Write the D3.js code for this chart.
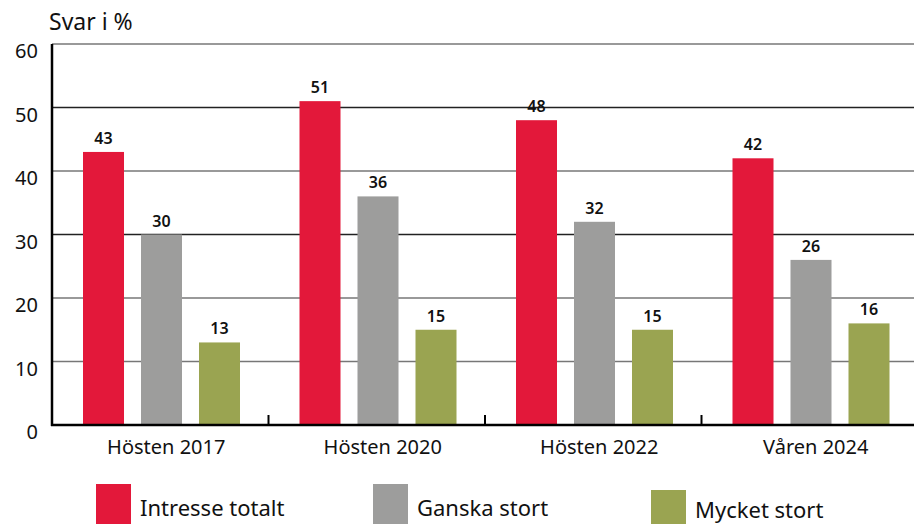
<!DOCTYPE html>
<html>
<head>
<meta charset="utf-8">
<script src="https://cdn.jsdelivr.net/npm/d3@7"></script>
<style>
  body { margin: 0; background: #fff; }
  svg text { font-family: "Noto Sans", "Open Sans", sans-serif; fill: #111; }
</style>
</head>
<body>
<div id="viz"></div>
<script>
var periods = ["Hösten 2017", "Hösten 2020", "Hösten 2022", "Våren 2024"];
var series = ["Intresse totalt", "Ganska stort", "Mycket stort"];
var intresseTotalt = [43, 51, 48, 42];
var ganskaStort = [30, 36, 32, 26];
var mycketStort = [13, 15, 15, 16];
var yTicks = [0, 10, 20, 30, 40, 50, 60];
var colors = ["#e3183a", "#9d9d9c", "#9aa451"];

var values = [intresseTotalt, ganskaStort, mycketStort];

var width = 914, height = 524;

var svg = d3.select('#viz').append('svg')
    .attr("width", width)
    .attr("height", height);

var y = d3.scaleLinear()
    .domain([0, 60])
    .range([425, 44]);

var x = d3.scaleBand()
    .domain(periods)
    .range([52, 918]);

var xInner = d3.scaleBand()
    .domain(series)
    .range([31, 188])
    .paddingInner(0.293);

// gridlines
svg.append("g").selectAll("line")
    .data(yTicks.filter(function(d) { return d > 0; }))
    .enter().append("line")
        .attr("x1", 52)
        .attr("x2", 914)
        .attr("y1", function(d) { return y(d); })
        .attr("y2", function(d) { return y(d); })
        .attr("stroke", function(d) { return (d == 50 || d == 30) ? "#222" : "#777"; })
        .attr("stroke-width", 1.5);

// y labels
svg.append("g").selectAll("text")
    .data(yTicks)
    .enter().append("text")
        .attr("x", 38)
        .attr("y", function(d) { return y(d) + 14; })
        .attr("text-anchor", "end")
        .style("font-size", "20px")
        .text(function(d) { return d; });

svg.append("text")
    .attr("x", 49)
    .attr("y", 30)
    .style("font-size", "23px")
    .text("Svar i %");

// bars
var groups = svg.append("g").selectAll("g")
    .data(periods)
    .enter().append("g")
        .attr("transform", function(d) { return "translate(" + x(d) + ",0)"; });

groups.selectAll("rect")
    .data(function(d, i) {
        return series.map(function(s, j) { return {s: s, v: values[j][i], c: colors[j]}; });
    })
    .enter().append("rect")
        .attr("x", function(d) { return xInner(d.s); })
        .attr("width", xInner.bandwidth())
        .attr("y", function(d) { return y(d.v); })
        .attr("height", function(d) { return y(0) - y(d.v); })
        .attr("fill", function(d) { return d.c; });

groups.selectAll("text.val")
    .data(function(d, i) {
        return series.map(function(s, j) { return {s: s, v: values[j][i]}; });
    })
    .enter().append("text")
        .attr("class", "val")
        .attr("x", function(d) { return xInner(d.s) + xInner.bandwidth() / 2; })
        .attr("y", function(d) { return y(d.v) - 8; })
        .attr("text-anchor", "middle")
        .style("font-size", "16px")
        .style("font-weight", "600")
        .text(function(d) { return d.v; });

// axes
svg.append("line")
    .attr("x1", 52).attr("x2", 52)
    .attr("y1", 44).attr("y2", 426)
    .attr("stroke", "#000").attr("stroke-width", 2.5);

svg.append("line")
    .attr("x1", 51).attr("x2", 914)
    .attr("y1", 425).attr("y2", 425)
    .attr("stroke", "#000").attr("stroke-width", 2.5);

svg.append("g").selectAll("line")
    .data(periods.slice(1))
    .enter().append("line")
        .attr("x1", function(d) { return x(d); })
        .attr("x2", function(d) { return x(d); })
        .attr("y1", 415)
        .attr("y2", 425)
        .attr("stroke", "#000")
        .attr("stroke-width", 2);

svg.append("g").selectAll("text")
    .data(periods)
    .enter().append("text")
        .attr("x", function(d) { return x(d) + x.bandwidth() / 2 + 6; })
        .attr("y", 454)
        .attr("text-anchor", "middle")
        .style("font-size", "20px")
        .text(function(d) { return d; });

// legend
var legendX = [96, 373, 651];
var legendY = [484, 484, 490];
var legendTextY = [32, 32, 28];

var legend = svg.append("g").selectAll("g")
    .data(series)
    .enter().append("g")
        .attr("transform", function(d, i) { return "translate(" + legendX[i] + "," + legendY[i] + ")"; });

legend.append("rect")
    .attr("width", 35)
    .attr("height", 40)
    .attr("fill", function(d, i) { return colors[i]; });

legend.append("text")
    .attr("x", 44)
    .attr("y", function(d, i) { return legendTextY[i]; })
    .style("font-size", "22px")
    .text(function(d) { return d; });
</script>
</body>
</html>
